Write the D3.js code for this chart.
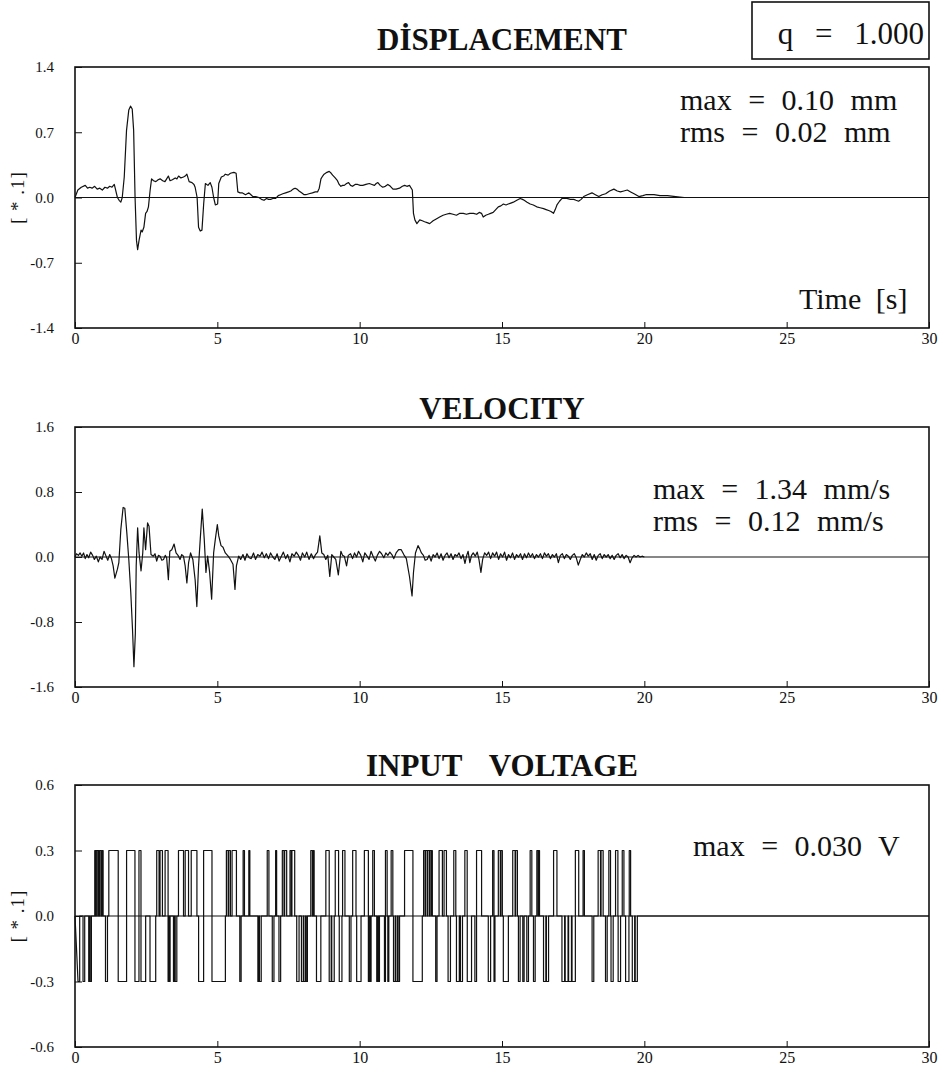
<!DOCTYPE html>
<html>
<head>
<meta charset="utf-8">
<script src="https://cdn.jsdelivr.net/npm/d3@7"></script>
<style>
  body { margin: 0; background: #fff; }
  svg text { font-family: "Liberation Serif", "Times New Roman", serif; fill: #111; }
</style>
</head>
<body>
<svg id="chart" width="945" height="1073"></svg>
<script>
// ---- data (time in s, values in the plotted units) ----
const panelTitles = ["DİSPLACEMENT", "VELOCITY", "INPUT  VOLTAGE"];
const timeTicks = [0, 5, 10, 15, 20, 25, 30];
const dispTicks = [-1.4, -0.7, 0.0, 0.7, 1.4];
const velTicks = [-1.6, -0.8, 0.0, 0.8, 1.6];
const voltTicks = [-0.6, -0.3, 0.0, 0.3, 0.6];
const dispNotes = ["max = 0.10 mm", "rms = 0.02 mm"];
const velNotes = ["max = 1.34 mm/s", "rms = 0.12 mm/s"];
const voltNotes = ["max = 0.030 V"];
const qLabel = "q = 1.000";
const unitLabel = "[ * .1]";
const timeLabel = "Time [s]";

const displacementPts = [[0,0],[0.1,0.08],[0.22,0.11],[0.36,0.13],[0.44,0.10],[0.52,0.11],[0.6,0.10],[0.69,0.12],[0.78,0.09],[0.87,0.10],[0.96,0.08],[1.05,0.11],[1.14,0.10],[1.22,0.12],[1.30,0.11],[1.38,0.14],[1.42,0.09],[1.49,0.0],[1.55,-0.03],[1.61,-0.05],[1.66,0.0],[1.73,0.22],[1.81,0.72],[1.89,0.94],[1.95,0.98],[2.01,0.95],[2.06,0.72],[2.11,0.0],[2.16,-0.46],[2.20,-0.56],[2.25,-0.46],[2.32,-0.35],[2.36,-0.37],[2.42,-0.32],[2.48,-0.17],[2.53,-0.15],[2.58,-0.10],[2.64,0.08],[2.69,0.20],[2.76,0.18],[2.84,0.17],[2.92,0.19],[2.99,0.20],[3.08,0.18],[3.16,0.17],[3.22,0.20],[3.28,0.23],[3.34,0.18],[3.42,0.19],[3.52,0.21],[3.58,0.20],[3.64,0.23],[3.72,0.21],[3.81,0.22],[3.87,0.23],[3.93,0.25],[4.01,0.17],[4.11,0.16],[4.18,0.14],[4.22,0.11],[4.29,0.0],[4.34,-0.32],[4.40,-0.36],[4.46,-0.35],[4.52,-0.07],[4.58,0.15],[4.67,0.13],[4.75,0.16],[4.81,0.11],[4.87,0.0],[4.93,-0.08],[5.01,-0.07],[5.05,0.15],[5.14,0.22],[5.22,0.23],[5.28,0.25],[5.38,0.24],[5.46,0.26],[5.58,0.27],[5.66,0.26],[5.72,0.06],[5.80,0.05],[5.87,0.05],[5.93,0.04],[5.99,0.03],[6.05,0.04],[6.11,0.05],[6.18,0.03],[6.25,0.01],[6.35,0.01],[6.46,0.0],[6.55,-0.02],[6.64,-0.03],[6.73,-0.01],[6.80,-0.02],[6.87,-0.02],[6.95,-0.01],[7.05,-0.01],[7.14,0.02],[7.22,0.03],[7.30,0.04],[7.40,0.05],[7.50,0.06],[7.58,0.07],[7.66,0.09],[7.73,0.10],[7.80,0.09],[7.87,0.07],[7.96,0.05],[8.05,0.03],[8.11,0.03],[8.22,0.04],[8.34,0.05],[8.44,0.06],[8.52,0.06],[8.58,0.10],[8.64,0.20],[8.70,0.23],[8.75,0.25],[8.85,0.27],[8.93,0.28],[9.00,0.26],[9.05,0.24],[9.14,0.21],[9.22,0.18],[9.28,0.14],[9.34,0.12],[9.40,0.13],[9.46,0.13],[9.54,0.15],[9.61,0.16],[9.68,0.13],[9.75,0.12],[9.84,0.14],[9.93,0.14],[10.02,0.13],[10.11,0.13],[10.22,0.14],[10.34,0.15],[10.43,0.14],[10.52,0.13],[10.58,0.15],[10.64,0.16],[10.72,0.13],[10.81,0.11],[10.90,0.12],[10.99,0.14],[11.08,0.12],[11.17,0.09],[11.28,0.09],[11.40,0.10],[11.50,0.12],[11.58,0.13],[11.66,0.12],[11.75,0.13],[11.85,0.08],[11.89,-0.17],[11.94,-0.24],[12.01,-0.28],[12.11,-0.24],[12.20,-0.25],[12.28,-0.26],[12.37,-0.27],[12.46,-0.28],[12.58,-0.25],[12.69,-0.23],[12.81,-0.21],[12.93,-0.19],[13.04,-0.18],[13.16,-0.17],[13.28,-0.18],[13.40,-0.19],[13.52,-0.17],[13.64,-0.17],[13.75,-0.18],[13.87,-0.17],[14.00,-0.17],[14.11,-0.18],[14.20,-0.16],[14.28,-0.17],[14.34,-0.21],[14.43,-0.19],[14.52,-0.18],[14.60,-0.17],[14.69,-0.16],[14.78,-0.13],[14.87,-0.10],[14.96,-0.09],[15.05,-0.07],[15.14,-0.08],[15.22,-0.07],[15.31,-0.06],[15.40,-0.05],[15.52,-0.03],[15.64,-0.01],[15.72,-0.02],[15.78,-0.03],[15.88,-0.05],[15.99,-0.07],[16.10,-0.08],[16.22,-0.10],[16.34,-0.11],[16.46,-0.12],[16.55,-0.13],[16.64,-0.14],[16.72,-0.15],[16.81,-0.17],[16.87,-0.13],[16.93,-0.08],[17.02,-0.04],[17.11,-0.01],[17.20,-0.01],[17.28,-0.01],[17.40,-0.02],[17.52,-0.02],[17.60,-0.03],[17.69,-0.04],[17.78,-0.02],[17.87,0.01],[18.00,0.03],[18.16,0.05],[18.28,0.03],[18.40,0.01],[18.52,0.03],[18.64,0.04],[18.78,0.07],[18.93,0.09],[19.05,0.07],[19.16,0.06],[19.28,0.07],[19.40,0.08],[19.52,0.06],[19.64,0.04],[19.81,0.01],[19.95,0.02],[20.05,0.03],[20.20,0.03],[20.34,0.03],[20.55,0.02],[20.81,0.02],[21.10,0.01],[21.40,0.0]];

const velocityPts = [[0,0.00],[0.05,0.04],[0.12,0.02],[0.18,0.05],[0.24,0.01],[0.3,0.05],[0.36,-0.02],[0.42,0.03],[0.48,-0.01],[0.55,0.06],[0.62,0.02],[0.68,-0.03],[0.75,0.01],[0.82,-0.06],[0.88,0.0],[0.95,-0.03],[1.02,0.07],[1.08,0.02],[1.15,-0.04],[1.22,0.03],[1.28,-0.02],[1.34,-0.11],[1.40,-0.26],[1.49,-0.15],[1.54,-0.07],[1.61,0.34],[1.69,0.61],[1.75,0.60],[1.82,0.30],[1.89,-0.03],[1.96,-0.44],[2.02,-0.89],[2.07,-1.35],[2.12,-0.94],[2.15,-0.11],[2.20,0.36],[2.25,0.05],[2.32,-0.17],[2.38,0.05],[2.42,0.36],[2.48,0.09],[2.55,0.42],[2.60,0.38],[2.67,0.03],[2.75,0.01],[2.81,0.04],[2.87,-0.05],[2.93,0.02],[2.99,0.01],[3.05,-0.04],[3.11,-0.03],[3.17,0.02],[3.22,-0.01],[3.28,-0.28],[3.33,0.07],[3.40,0.09],[3.48,0.16],[3.55,0.05],[3.62,0.02],[3.69,-0.03],[3.75,0.03],[3.81,0.01],[3.87,-0.11],[3.93,-0.32],[3.99,-0.07],[4.06,0.05],[4.14,-0.03],[4.22,-0.28],[4.28,-0.61],[4.34,-0.11],[4.40,0.22],[4.47,0.59],[4.54,0.22],[4.60,-0.19],[4.66,0.01],[4.73,-0.19],[4.80,-0.52],[4.87,0.05],[4.93,0.22],[5.00,0.40],[5.05,0.26],[5.13,0.14],[5.20,0.12],[5.28,0.05],[5.38,0.01],[5.46,-0.03],[5.55,-0.09],[5.62,-0.40],[5.67,-0.11],[5.75,0.01],[5.82,-0.03],[5.90,0.03],[5.97,-0.04],[6.04,0.04],[6.12,-0.01],[6.19,-0.02],[6.27,0.05],[6.34,-0.03],[6.42,0.03],[6.50,0.01],[6.57,0.06],[6.65,-0.01],[6.72,0.04],[6.80,-0.02],[6.87,0.05],[6.95,0.0],[7.02,-0.03],[7.10,0.04],[7.17,-0.05],[7.25,0.01],[7.32,0.06],[7.40,-0.02],[7.47,0.03],[7.55,-0.06],[7.62,0.04],[7.70,0.01],[7.77,0.06],[7.85,0.02],[7.92,-0.04],[7.99,0.05],[8.07,0.0],[8.14,0.06],[8.22,-0.03],[8.30,0.04],[8.38,-0.02],[8.45,0.03],[8.52,0.06],[8.60,0.26],[8.67,0.05],[8.74,0.03],[8.81,-0.03],[8.88,0.02],[8.95,-0.24],[9.02,0.03],[9.09,0.0],[9.16,-0.03],[9.25,-0.22],[9.34,0.07],[9.40,0.02],[9.46,0.01],[9.54,-0.11],[9.60,0.02],[9.68,0.04],[9.75,-0.02],[9.82,0.05],[9.89,0.0],[9.96,0.07],[10.04,0.02],[10.11,-0.06],[10.18,0.05],[10.26,0.01],[10.33,-0.03],[10.40,0.07],[10.47,0.01],[10.55,-0.05],[10.62,0.02],[10.70,0.07],[10.77,0.04],[10.85,-0.01],[10.92,0.05],[10.99,0.02],[11.06,0.06],[11.13,0.03],[11.20,-0.02],[11.28,0.05],[11.37,0.09],[11.46,0.09],[11.55,0.03],[11.64,-0.02],[11.75,-0.24],[11.84,-0.48],[11.89,-0.19],[11.96,0.05],[12.05,0.14],[12.11,0.10],[12.17,0.05],[12.24,0.02],[12.30,-0.04],[12.37,-0.03],[12.44,0.02],[12.51,-0.05],[12.58,0.03],[12.65,0.0],[12.72,0.05],[12.79,-0.02],[12.86,0.04],[12.93,-0.04],[13.00,0.02],[13.07,0.05],[13.14,-0.01],[13.21,0.04],[13.28,-0.03],[13.35,0.03],[13.42,0.01],[13.49,0.05],[13.56,-0.02],[13.63,0.03],[13.70,-0.08],[13.76,0.02],[13.81,0.07],[13.87,-0.07],[13.93,0.02],[13.99,0.05],[14.06,0.01],[14.13,0.06],[14.19,-0.03],[14.26,-0.19],[14.32,-0.03],[14.39,0.05],[14.46,0.02],[14.53,0.06],[14.60,-0.02],[14.67,0.05],[14.74,0.01],[14.81,0.06],[14.88,-0.03],[14.95,0.04],[15.02,0.0],[15.09,0.06],[15.16,-0.04],[15.23,0.03],[15.30,-0.01],[15.37,0.05],[15.44,-0.03],[15.51,0.03],[15.58,0.0],[15.65,0.04],[15.72,-0.03],[15.79,0.04],[15.86,-0.01],[15.93,0.05],[16.00,0.0],[16.07,0.04],[16.14,-0.02],[16.21,0.03],[16.28,0.0],[16.35,0.04],[16.42,-0.02],[16.49,0.05],[16.56,0.01],[16.63,0.04],[16.70,-0.02],[16.77,0.03],[16.84,0.0],[16.91,0.04],[16.98,-0.07],[17.05,0.02],[17.12,0.04],[17.19,-0.02],[17.26,0.03],[17.33,0.01],[17.40,-0.03],[17.47,0.02],[17.54,0.04],[17.61,-0.01],[17.68,-0.10],[17.75,-0.03],[17.82,0.03],[17.89,0.0],[17.96,0.05],[18.03,0.01],[18.10,0.04],[18.17,-0.03],[18.24,0.03],[18.31,-0.04],[18.38,0.02],[18.45,0.04],[18.52,-0.02],[18.59,0.03],[18.66,0.0],[18.73,0.03],[18.80,-0.02],[18.87,0.02],[18.94,-0.03],[19.01,0.02],[19.08,0.04],[19.15,-0.01],[19.22,0.03],[19.29,-0.02],[19.36,0.02],[19.43,0.0],[19.50,-0.07],[19.57,-0.01],[19.64,0.02],[19.71,0.0],[19.78,0.02],[19.85,0.0],[19.92,0.01],[20.0,0.0]];

// input voltage: pulses [start, end] at +level / -level, zero in between
const voltLevel = 0.3;
const pulsesUp = [[0.694,0.73],[0.75,0.80],[0.82,0.86],[0.88,0.93],[0.95,0.988],[1.188,1.518],[1.812,2.106],[2.247,2.318],[2.871,2.953],[2.988,3.071],[3.165,3.27],[3.635,3.812],[3.871,3.988],[4.083,4.283],[4.518,4.812],[5.318,5.38],[5.40,5.459],[5.518,5.671],[5.906,5.953],[6.106,6.142],[6.753,6.812],[7.048,7.083],[7.283,7.342],[7.365,7.436],[7.553,7.60],[7.62,7.718],[8.283,8.34],[8.36,8.401],[8.812,8.93],[9.142,9.259],[9.40,9.483],[9.754,9.871],[10.165,10.306],[10.459,10.518],[10.906,10.965],[11.106,11.165],[11.577,11.871],[12.247,12.30],[12.31,12.37],[12.38,12.44],[12.45,12.50],[12.51,12.553],[12.789,12.906],[12.965,13.048],[13.306,13.377],[13.695,13.777],[14.106,14.283],[14.671,14.718],[14.871,14.94],[14.96,15.012],[15.377,15.46],[15.48,15.542],[15.989,16.048],[16.224,16.27],[16.28,16.318],[16.812,16.93],[17.577,17.695],[17.848,17.895],[18.377,18.46],[18.48,18.553],[18.753,18.812],[18.989,19.071],[19.224,19.283],[19.47,19.518]];
const pulsesDown = [[0.106,0.165],[0.282,0.341],[0.482,0.51],[0.53,0.576],[1.071,1.141],[1.518,1.812],[2.106,2.247],[2.318,2.482],[2.635,2.835],[3.27,3.30],[3.32,3.341],[3.459,3.50],[3.52,3.577],[4.342,4.518],[4.812,5.283],[5.789,5.836],[6.424,6.46],[6.48,6.542],[6.930,6.989],[7.165,7.224],[7.789,7.871],[7.954,8.02],[8.04,8.10],[8.12,8.165],[8.483,8.636],[8.930,9.00],[9.02,9.106],[9.283,9.377],[9.636,9.695],[9.895,10.048],[10.306,10.35],[10.37,10.401],[10.60,10.64],[10.66,10.695],[10.871,10.906],[10.989,11.024],[11.189,11.25],[11.27,11.33],[11.35,11.401],[11.871,12.2],[12.671,12.718],[13.106,13.189],[13.40,13.50],[13.54,13.612],[13.78,13.93],[14.047,14.106],[14.518,14.6],[14.72,14.753],[15.047,15.224],[15.577,15.636],[15.73,15.777],[15.871,15.93],[16.106,16.165],[16.459,16.54],[16.56,16.636],[17.106,17.2],[17.22,17.32],[17.34,17.44],[17.46,17.577],[18.165,18.224],[18.636,18.695],[18.83,18.906],[19.08,19.165],[19.342,19.459],[19.577,19.66],[19.68,19.754]];

// turn the pulse lists into one step trace (the trace ramps down at the very start)
function voltageTrace() {
    const pulses = pulsesUp.map(p => [p[0], p[1], voltLevel])
        .concat(pulsesDown.map(p => [p[0], p[1], -voltLevel]))
        .sort((a, b) => a[0] - b[0]);
    const pts = [[0, 0]];
    pulses.forEach((p, i) => {
        const prev = pulses[i - 1], next = pulses[i + 1];
        if (i > 0) pts.push([p[0], prev[1] === p[0] ? prev[2] : 0]);
        pts.push([p[0], p[2]], [p[1], p[2]]);
        if (!next || next[0] !== p[1]) pts.push([p[1], 0]);
    });
    pts.push([30, 0]);
    return pts;
}

const svg = d3.select("#chart");
const left = 75, right = 929;
const x = d3.scaleLinear().domain([0, 30]).range([left, right]);
const fmt = v => v.toFixed(1);
const serif = "'Liberation Serif', 'Times New Roman', serif";

const panels = [
    { title: panelTitles[0], titleY: 50, top: 67, bottom: 328, ticks: dispTicks, pts: displacementPts,
      notes: dispNotes, noteX: 680, noteY: [110, 142], unit: true, time: true },
    { title: panelTitles[1], titleY: 419, top: 427, bottom: 687, ticks: velTicks, pts: velocityPts,
      notes: velNotes, noteX: 653, noteY: [499, 531], unit: false, time: false },
    { title: panelTitles[2], titleY: 776, top: 785, bottom: 1047, ticks: voltTicks, pts: voltageTrace(),
      notes: voltNotes, noteX: 693, noteY: [856], unit: true, time: false }
];

panels.forEach(p => {
    const y = d3.scaleLinear().domain(d3.extent(p.ticks)).range([p.bottom, p.top]);
    const g = svg.append("g");

    g.append("text").attr("x", (left + right) / 2).attr("y", p.titleY).attr("text-anchor", "middle")
        .style("font-size", "31px").style("font-weight", "bold").style("white-space", "pre")
        .style("word-spacing", "6px").text(p.title);

    // y axis: inward ticks, labels on the left
    const ya = g.append("g").attr("transform", `translate(${left},0)`)
        .call(d3.axisLeft(y).tickValues(p.ticks).tickFormat(fmt).tickSize(-7).tickPadding(21))
        .attr("font-size", 15).attr("font-family", serif);
    ya.select(".domain").remove();
    ya.selectAll("text").attr("font-size", 15);
    ya.selectAll("line").attr("stroke", "#111");

    const xa = g.append("g").attr("transform", `translate(0,${p.bottom})`)
        .call(d3.axisBottom(x).tickValues(timeTicks).tickSize(-6).tickPadding(5))
        .attr("font-size", 16).attr("font-family", serif);
    xa.select(".domain").remove();
    xa.selectAll("line").attr("stroke", "#111");

    // zero line
    g.append("line").attr("x1", left).attr("x2", right).attr("y1", y(0)).attr("y2", y(0))
        .attr("stroke", "#111").attr("stroke-width", 1.2);

    g.append("path").datum(p.pts)
        .attr("d", d3.line().x(d => x(d[0])).y(d => y(d[1])))
        .attr("fill", "none").attr("stroke", "#111").attr("stroke-width", 1.2).attr("stroke-linejoin", "round");

    g.append("rect").attr("x", left).attr("y", p.top).attr("width", right - left).attr("height", p.bottom - p.top)
        .attr("fill", "none").attr("stroke", "#111").attr("stroke-width", 1.6);

    p.notes.forEach((n, i) => {
        g.append("text").attr("x", p.noteX).attr("y", p.noteY[i]).style("font-size", "30px")
            .style("word-spacing", "9px").text(n);
    });

    if (p.unit) {
        g.append("text").attr("transform", `translate(24,${y(0)}) rotate(-90)`).attr("text-anchor", "middle")
            .style("font-size", "19px").style("letter-spacing", "1px").style("white-space", "pre").text(unitLabel);
    }
    if (p.time) {
        g.append("text").attr("x", 799).attr("y", 309).style("font-size", "30px").style("word-spacing", "7px").text(timeLabel);
    }
});

// q box in the top right corner
svg.append("rect").attr("x", 752).attr("y", 2).attr("width", 177).attr("height", 57)
    .attr("fill", "none").attr("stroke", "#111").attr("stroke-width", 1.6);
svg.append("text").attr("x", 924).attr("y", 44).attr("text-anchor", "end").style("font-size", "31px")
    .style("word-spacing", "14px").text(qLabel);
</script>
</body>
</html>
